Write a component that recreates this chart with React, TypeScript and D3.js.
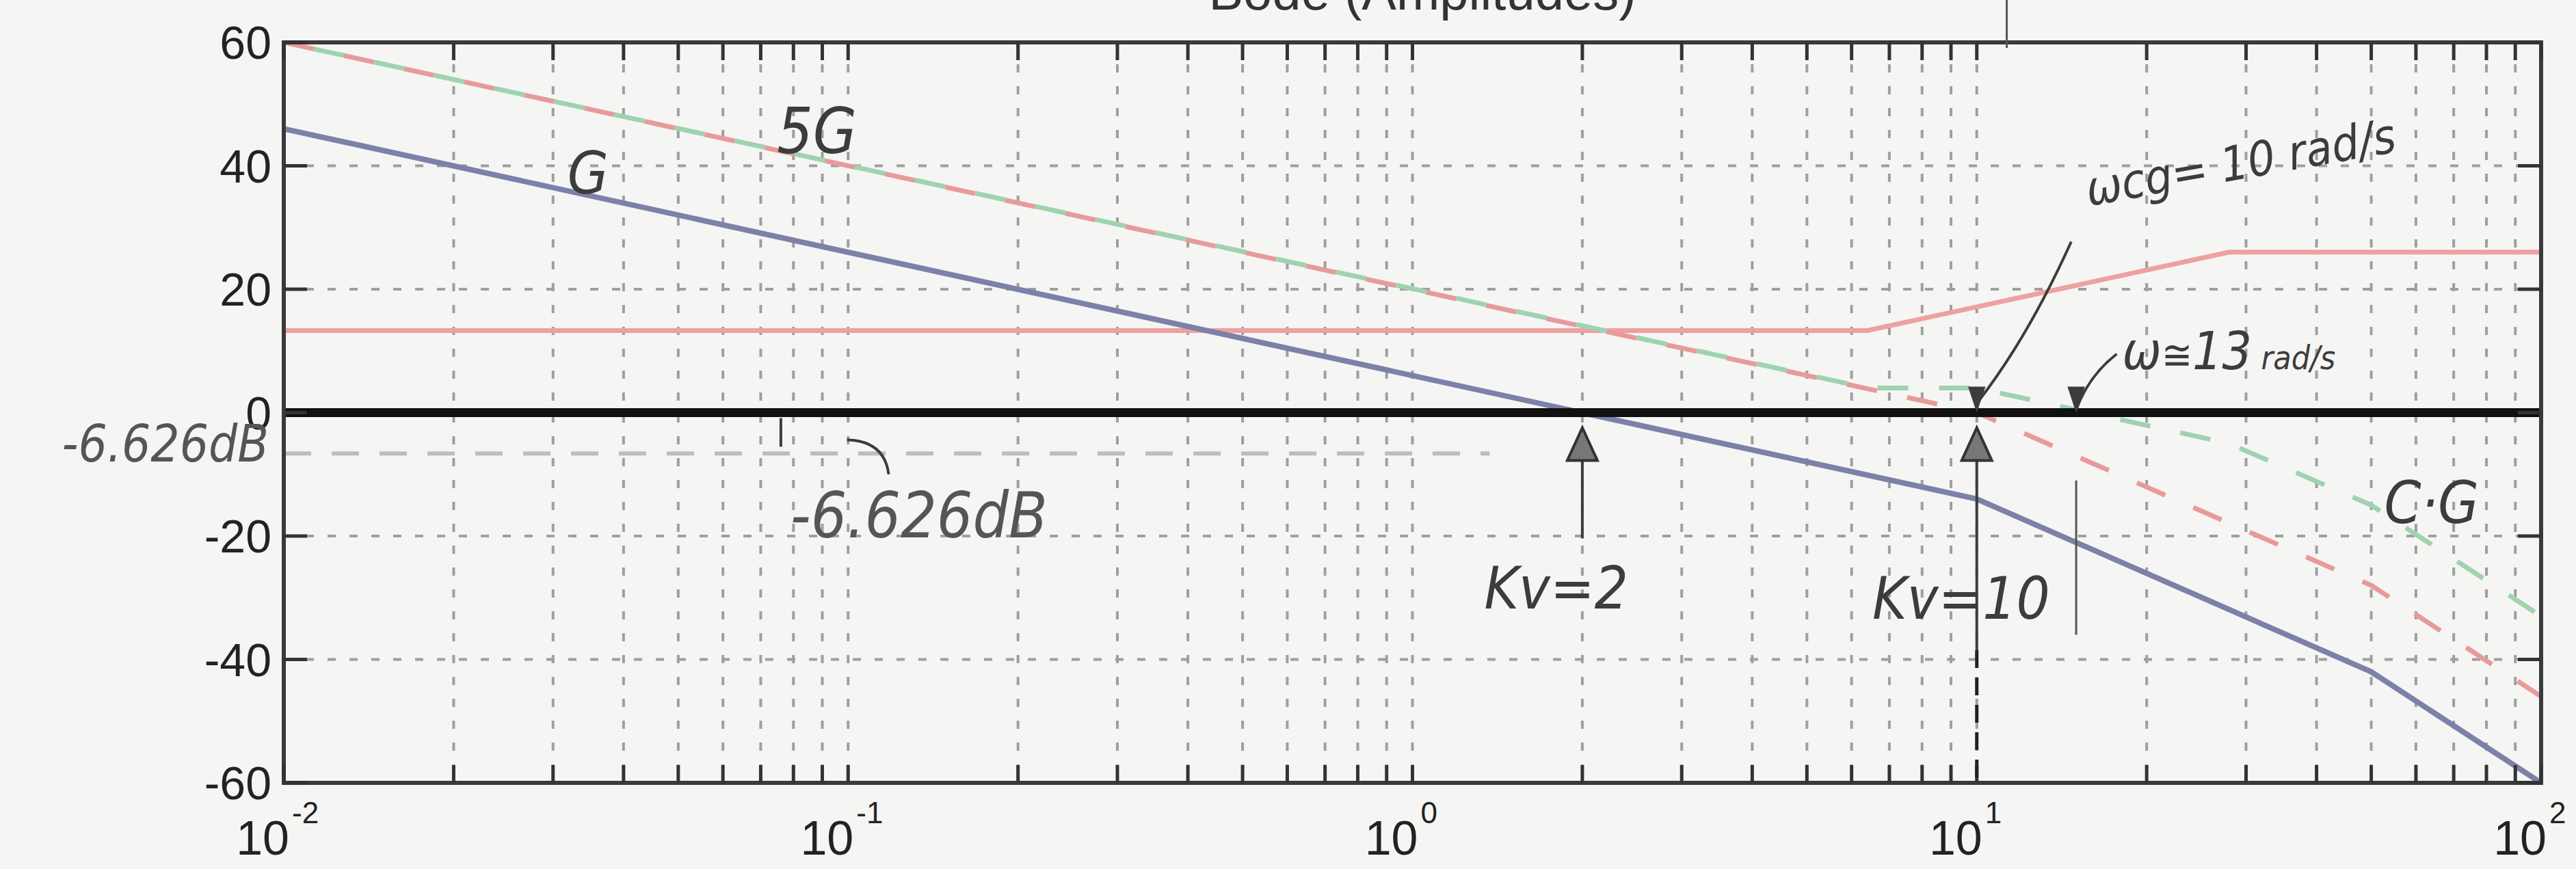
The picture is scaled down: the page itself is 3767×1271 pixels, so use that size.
import * as d3 from 'd3';

const W = 3767;
const H = 1271;

// axis ticks
const yTicks = [60, 40, 20, 0, -20, -40, -60];
const decades = [-2, -1, 0, 1, 2];

// G (Kv = 2), asymptotic magnitude in dB
const freqG = [0.01, 10, 50, 100];
const magG = [46, -14, -42, -60];

// 5G (Kv = 10)
const freq5G = [0.01, 10, 50, 100];
const mag5G = [60, 0, -28, -46];

// C·G (compensated)
const freqCG = [0.01, 6.4, 10, 28, 50, 100];
const magCG = [60, 4, 4, -5, -15, -33];

// C (compensator)
const freqC = [0.01, 6.4, 28, 100];
const magC = [13.3, 13.3, 26, 26];

// handwritten marks
const marginDb = -6.626;
const marginLineEnd = 1.37;
const kvFreqs = [2, 10];

const hand = "'DejaVu Sans Condensed', 'DejaVu Sans', sans-serif";
const ink = '#3c3c3c';

export default function App() {
  const left = 415;
  const right = 3716;
  const top = 62;
  const bottom = 1145;

  const x = d3.scaleLog().domain([0.01, 100]).range([left, right]);
  const y = d3.scaleLinear().domain([-60, 60]).range([bottom, top]);

  const line = d3
    .line<[number, number]>()
    .x((d) => x(d[0]))
    .y((d) => y(d[1]));

  const pts = (f: number[], m: number[]) => f.map((v, i) => [v, m[i]] as [number, number]);

  const minor = x.ticks();
  const inner = minor.filter((t) => t > 0.0100001 && t < 99.999);

  const arrowHead = (cx: number, cy: number, dir: number, w = 22, h = 48) =>
    `M${cx},${cy} L${cx - w},${cy + dir * h} L${cx + w},${cy + dir * h} Z`;

  return (
    <svg
      width={W}
      height={H}
      style={{ position: 'absolute', left: 0, top: 0, background: '#f5f5f4' }}
    >
      <defs>
        <clipPath id="plot">
          <rect x={left} y={top} width={right - left} height={bottom - top} />
        </clipPath>
      </defs>
      <rect width={W} height={H} fill="#f5f5f4" />

      {/* title, cut at the top of the scan */}
      <text
        x={2080}
        y={14}
        textAnchor="middle"
        fontFamily="'Liberation Sans', Arial, sans-serif"
        fontSize={76}
        fill="#333"
      >
        Bode (Amplitudes)
      </text>

      {/* grid */}
      <g stroke="#8a8a8a" strokeWidth={4} strokeDasharray="12,20" opacity={0.8}>
        {inner.map((t) => (
          <line key={'v' + t} x1={x(t)} x2={x(t)} y1={top} y2={bottom} />
        ))}
        {yTicks
          .filter((v) => v !== 60 && v !== -60 && v !== 0)
          .map((v) => (
            <line key={'h' + v} x1={left} x2={right} y1={y(v)} y2={y(v)} />
          ))}
      </g>

      {/* -6.626 dB gain margin line */}
      <line
        x1={x(0.01)}
        x2={x(marginLineEnd)}
        y1={y(marginDb)}
        y2={y(marginDb)}
        stroke="#bdbdbd"
        strokeWidth={6}
        strokeDasharray="40,30"
      />

      {/* curves */}
      <g clipPath="url(#plot)" fill="none">
        <path d={line(pts(freqC, magC)) || ''} stroke="#efa0a0" strokeWidth={7} />
        <path
          d={line(pts(freq5G, mag5G)) || ''}
          stroke="#e89a9a"
          strokeWidth={7}
          strokeDasharray="45,45"
        />
        <path
          d={line(pts(freqCG, magCG)) || ''}
          stroke="#9fd3b0"
          strokeWidth={7}
          strokeDasharray="45,45"
          strokeDashoffset={45}
        />
        <path d={line(pts(freqG, magG)) || ''} stroke="#7d80a8" strokeWidth={8} />
      </g>

      {/* thick 0 dB line */}
      <line x1={left} x2={right} y1={y(0)} y2={y(0)} stroke="#111" strokeWidth={13} />

      {/* frame and ticks */}
      <rect
        x={left}
        y={top}
        width={right - left}
        height={bottom - top}
        fill="none"
        stroke="#3a3a3a"
        strokeWidth={6}
      />
      <g stroke="#333" strokeWidth={5}>
        {minor.map((t) => (
          <g key={'t' + t}>
            <line x1={x(t)} x2={x(t)} y1={bottom} y2={bottom - 26} />
            <line x1={x(t)} x2={x(t)} y1={top} y2={top + 26} />
          </g>
        ))}
        {yTicks.map((v) => (
          <g key={'yt' + v}>
            <line x1={left} x2={left + 34} y1={y(v)} y2={y(v)} />
            <line x1={right} x2={right - 34} y1={y(v)} y2={y(v)} />
          </g>
        ))}
      </g>

      {/* tick labels */}
      <g fontFamily="'Liberation Sans', Arial, sans-serif" fill="#222">
        {yTicks.map((v) => (
          <text key={'yl' + v} x={left - 18} y={y(v) + 24} fontSize={68} textAnchor="end">
            {String(v)}
          </text>
        ))}
        {decades.map((d) => (
          <g key={'xl' + d}>
            <text x={x(Math.pow(10, d)) + 8} y={1250} fontSize={70} textAnchor="end">
              10
            </text>
            <text x={x(Math.pow(10, d)) + 12} y={1204} fontSize={44} textAnchor="start">
              {String(d)}
            </text>
          </g>
        ))}
      </g>

      {/* handwritten annotations */}
      <g fontFamily={hand} fill={ink} fontStyle="italic">
        <text x={x(0.0748)} y={y(42)} fontSize={92}>
          5G
        </text>
        <text x={x(0.0318)} y={y(35.5)} fontSize={86}>
          G
        </text>
        <text x={393} y={675} fontSize={74} textAnchor="end" fill="#555">
          -6.626dB
        </text>
        <text x={x(0.079)} y={y(-20.2)} fontSize={92} fill="#555">
          -6.626dB
        </text>
        <text x={x(1.34)} y={y(-31.8)} fontSize={86}>
          Kv=2
        </text>
        <text x={x(6.53)} y={y(-33.4)} fontSize={86}>
          Kv=10
        </text>
        <text
          x={x(15.8)}
          y={y(33.5)}
          fontSize={70}
          transform={`rotate(-10 ${x(15.8)} ${y(33.5)})`}
        >
          ωcg= 10 rad/s
        </text>
        <text x={x(18.1)} y={y(7)} fontSize={76}>
          ω<tspan fontSize={60}>≅</tspan>13
          <tspan fontSize={48}> rad/s</tspan>
        </text>
        <text x={x(52.7)} y={y(-17.9)} fontSize={86}>
          C·G
        </text>
      </g>

      {/* arrows and pointer lines */}
      <g stroke={ink} strokeWidth={4} fill="none">
        {/* gain margin arrow */}
        <line x1={x(0.076)} x2={x(0.076)} y1={y(0) + 8} y2={y(marginDb) - 10} />
        <path
          d={`M${x(0.0996)},${y(-4.4)} Q${x(0.116)},${y(-4.6)} ${x(0.118)},${y(-10)}`}
        />
        {/* Kv arrows */}
        {kvFreqs.map((f) => (
          <g key={'kv' + f}>
            <line x1={x(f)} x2={x(f)} y1={y(-3)} y2={y(f === 2 ? -20.4 : -38.5)} />
            <path d={arrowHead(x(f), y(0) + 22, 1)} fill="#777" stroke="#333" />
          </g>
        ))}
        <line
          x1={x(10)}
          x2={x(10)}
          y1={y(-38.5)}
          y2={bottom}
          strokeDasharray="26,14"
          strokeWidth={5}
          stroke="#222"
        />
        {/* wcg pointer */}
        <path d={`M${x(14.7)},${y(27.7)} Q${x(12.3)},${y(12)} ${x(10)},${y(1.5)}`} />
        <path d={arrowHead(x(10), y(0) - 6, -1, 10, 30)} fill={ink} />
        {/* wc pointer */}
        <path d={`M${x(17.7)},${y(9.5)} Q${x(15.8)},${y(6)} ${x(15)},${y(0.5)}`} />
        <path d={arrowHead(x(15), y(0) - 6, -1, 10, 30)} fill={ink} />
        <line x1={x(15)} x2={x(15)} y1={y(-11)} y2={y(-36)} strokeWidth={3} stroke="#555" />
        <line x1={x(11.3)} x2={x(11.3)} y1={0} y2={top + 8} strokeWidth={3} stroke="#555" />
      </g>
    </svg>
  );
}
